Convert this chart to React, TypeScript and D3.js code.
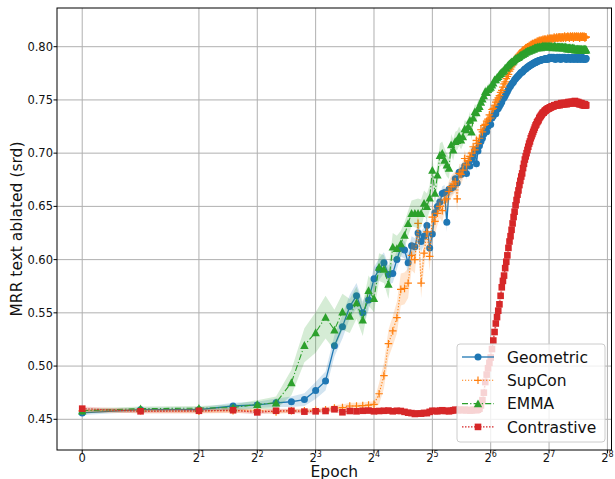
import * as React from 'react';
import * as d3 from 'd3';

// one point per epoch, 0..199
const epochs: number[] = d3.range(0, 200);

const geometricMean = [
  0.456, 0.459, 0.459, 0.4625, 0.4635, 0.4655, 0.4665, 0.4685, 0.477, 0.486,
  0.519, 0.537, 0.556, 0.566, 0.550, 0.562, 0.582, 0.591, 0.597, 0.586,
  0.587, 0.600, 0.611, 0.609, 0.597, 0.613, 0.612, 0.625, 0.617, 0.622,
  0.632, 0.611, 0.624, 0.644, 0.650, 0.654, 0.662, 0.663, 0.635, 0.666,
  0.667, 0.668, 0.676, 0.672, 0.682, 0.680, 0.684, 0.688, 0.681, 0.690,
  0.688, 0.694, 0.698, 0.703, 0.690, 0.702, 0.707, 0.711, 0.714, 0.718,
  0.722, 0.720, 0.725, 0.729, 0.727, 0.733, 0.735, 0.738, 0.737, 0.741,
  0.742, 0.744, 0.746, 0.748, 0.751, 0.752, 0.754, 0.756, 0.758, 0.760,
  0.762, 0.763, 0.765, 0.766, 0.767, 0.769, 0.770, 0.771, 0.772, 0.773,
  0.774, 0.775, 0.776, 0.776, 0.777, 0.778, 0.779, 0.779, 0.780, 0.781,
  0.781, 0.782, 0.782, 0.783, 0.783, 0.784, 0.784, 0.785, 0.785, 0.785,
  0.786, 0.786, 0.786, 0.787, 0.787, 0.787, 0.787, 0.788, 0.788, 0.788,
  0.788, 0.788, 0.789, 0.788, 0.789, 0.789, 0.788, 0.789, 0.789, 0.790,
  0.789, 0.789, 0.790, 0.789, 0.789, 0.790, 0.789, 0.789, 0.788, 0.789,
  0.789, 0.790, 0.789, 0.789, 0.789, 0.790, 0.789, 0.788, 0.789, 0.789,
  0.790, 0.789, 0.789, 0.789, 0.790, 0.789, 0.789, 0.788, 0.789, 0.789,
  0.789, 0.790, 0.789, 0.789, 0.789, 0.788, 0.789, 0.789, 0.790, 0.789,
  0.789, 0.789, 0.788, 0.789, 0.789, 0.790, 0.789, 0.789, 0.789, 0.788,
  0.789, 0.789, 0.790, 0.789, 0.789, 0.789, 0.788, 0.789, 0.789, 0.789,
  0.790, 0.789, 0.789, 0.788, 0.789, 0.789, 0.789, 0.788, 0.789, 0.789,
];
const geometricStd = [
  0.002, 0.002, 0.002, 0.003, 0.003, 0.004, 0.005, 0.006, 0.008, 0.009,
  0.010, 0.011, 0.011, 0.012, 0.011, 0.010, 0.011, 0.010, 0.010, 0.009,
  0.009, 0.009, 0.008, 0.008, 0.010, 0.009, 0.008, 0.008, 0.010, 0.008,
  0.008, 0.010, 0.008, 0.008, 0.008, 0.007, 0.007, 0.007, 0.009, 0.007,
  0.006, 0.006, 0.006, 0.006, 0.006, 0.006, 0.005, 0.005, 0.006, 0.005,
  0.005, 0.005, 0.005, 0.005, 0.006, 0.005, 0.005, 0.004, 0.004, 0.004,
  0.004, 0.004, 0.004, 0.004, 0.004, 0.004, 0.004, 0.004, 0.004, 0.003,
  0.003, 0.003, 0.003, 0.003, 0.003, 0.003, 0.003, 0.003, 0.003, 0.003,
  0.003, 0.003, 0.003, 0.003, 0.003, 0.003, 0.003, 0.003, 0.003, 0.003,
  0.003, 0.003, 0.003, 0.003, 0.003, 0.003, 0.003, 0.003, 0.003, 0.003,
  0.002, 0.002, 0.002, 0.002, 0.002, 0.002, 0.002, 0.002, 0.002, 0.002,
  0.002, 0.002, 0.002, 0.002, 0.002, 0.002, 0.002, 0.002, 0.002, 0.002,
  0.002, 0.002, 0.002, 0.002, 0.002, 0.002, 0.002, 0.002, 0.002, 0.002,
  0.002, 0.002, 0.002, 0.002, 0.002, 0.002, 0.002, 0.002, 0.002, 0.002,
  0.002, 0.002, 0.002, 0.002, 0.002, 0.002, 0.002, 0.002, 0.002, 0.002,
  0.002, 0.002, 0.002, 0.002, 0.002, 0.002, 0.002, 0.002, 0.002, 0.002,
  0.002, 0.002, 0.002, 0.002, 0.002, 0.002, 0.002, 0.002, 0.002, 0.002,
  0.002, 0.002, 0.002, 0.002, 0.002, 0.002, 0.002, 0.002, 0.002, 0.002,
  0.002, 0.002, 0.002, 0.002, 0.002, 0.002, 0.002, 0.002, 0.002, 0.002,
  0.002, 0.002, 0.002, 0.002, 0.002, 0.002, 0.002, 0.002, 0.002, 0.002,
];

const supconMean = [
  0.458, 0.458, 0.4575, 0.458, 0.4585, 0.457, 0.458, 0.458, 0.4585, 0.459,
  0.4605, 0.461, 0.4625, 0.4625, 0.4628, 0.4634, 0.464, 0.474, 0.491, 0.521,
  0.533, 0.5455, 0.572, 0.573, 0.578, 0.604, 0.600, 0.634, 0.578, 0.606,
  0.626, 0.603, 0.640, 0.636, 0.6435, 0.650, 0.646, 0.656, 0.657, 0.664,
  0.6685, 0.671, 0.673, 0.657, 0.681, 0.680, 0.684, 0.695, 0.689, 0.693,
  0.697, 0.700, 0.706, 0.703, 0.712, 0.709, 0.714, 0.722, 0.720, 0.726,
  0.727, 0.730, 0.732, 0.736, 0.733, 0.741, 0.742, 0.745, 0.748, 0.750,
  0.752, 0.754, 0.757, 0.759, 0.762, 0.765, 0.767, 0.770, 0.772, 0.774,
  0.777, 0.779, 0.781, 0.783, 0.785, 0.786, 0.788, 0.789, 0.791, 0.792,
  0.793, 0.794, 0.795, 0.796, 0.797, 0.797, 0.798, 0.799, 0.799, 0.800,
  0.800, 0.801, 0.801, 0.802, 0.802, 0.803, 0.803, 0.803, 0.804, 0.804,
  0.804, 0.805, 0.805, 0.805, 0.806, 0.805, 0.806, 0.806, 0.806, 0.807,
  0.806, 0.807, 0.807, 0.807, 0.806, 0.807, 0.808, 0.807, 0.807, 0.808,
  0.808, 0.807, 0.808, 0.808, 0.807, 0.808, 0.809, 0.808, 0.808, 0.808,
  0.809, 0.808, 0.808, 0.809, 0.808, 0.809, 0.809, 0.808, 0.809, 0.808,
  0.809, 0.809, 0.808, 0.809, 0.810, 0.809, 0.808, 0.809, 0.809, 0.809,
  0.810, 0.809, 0.809, 0.808, 0.809, 0.810, 0.809, 0.809, 0.809, 0.810,
  0.809, 0.808, 0.809, 0.810, 0.809, 0.809, 0.809, 0.810, 0.809, 0.809,
  0.809, 0.810, 0.809, 0.809, 0.808, 0.809, 0.810, 0.809, 0.809, 0.809,
  0.810, 0.809, 0.809, 0.809, 0.810, 0.809, 0.808, 0.809, 0.809, 0.809,
];
const supconStd = [
  0.002, 0.002, 0.002, 0.002, 0.002, 0.002, 0.002, 0.002, 0.002, 0.002,
  0.003, 0.003, 0.003, 0.003, 0.003, 0.003, 0.003, 0.010, 0.012, 0.013,
  0.014, 0.015, 0.015, 0.015, 0.014, 0.014, 0.013, 0.013, 0.014, 0.013,
  0.012, 0.014, 0.012, 0.012, 0.011, 0.011, 0.011, 0.011, 0.010, 0.010,
  0.010, 0.010, 0.010, 0.012, 0.009, 0.009, 0.009, 0.008, 0.008, 0.008,
  0.007, 0.007, 0.007, 0.007, 0.006, 0.006, 0.006, 0.006, 0.006, 0.006,
  0.005, 0.005, 0.005, 0.005, 0.005, 0.005, 0.005, 0.005, 0.005, 0.005,
  0.004, 0.004, 0.004, 0.004, 0.004, 0.004, 0.004, 0.004, 0.004, 0.004,
  0.004, 0.004, 0.004, 0.004, 0.004, 0.004, 0.004, 0.004, 0.004, 0.004,
  0.004, 0.004, 0.004, 0.004, 0.004, 0.004, 0.004, 0.004, 0.004, 0.004,
  0.003, 0.003, 0.003, 0.003, 0.003, 0.003, 0.003, 0.003, 0.003, 0.003,
  0.003, 0.003, 0.003, 0.003, 0.003, 0.003, 0.003, 0.003, 0.003, 0.003,
  0.003, 0.003, 0.003, 0.003, 0.003, 0.003, 0.003, 0.003, 0.003, 0.003,
  0.003, 0.003, 0.003, 0.003, 0.003, 0.003, 0.003, 0.003, 0.003, 0.003,
  0.003, 0.003, 0.003, 0.003, 0.003, 0.003, 0.003, 0.003, 0.003, 0.003,
  0.003, 0.003, 0.003, 0.003, 0.003, 0.003, 0.003, 0.003, 0.003, 0.003,
  0.003, 0.003, 0.003, 0.003, 0.003, 0.003, 0.003, 0.003, 0.003, 0.003,
  0.003, 0.003, 0.003, 0.003, 0.003, 0.003, 0.003, 0.003, 0.003, 0.003,
  0.003, 0.003, 0.003, 0.003, 0.003, 0.003, 0.003, 0.003, 0.003, 0.003,
  0.003, 0.003, 0.003, 0.003, 0.003, 0.003, 0.003, 0.003, 0.003, 0.003,
];

const emmaMean = [
  0.458, 0.460, 0.4605, 0.461, 0.464, 0.4655, 0.4845, 0.5195, 0.5315, 0.546,
  0.534, 0.551, 0.547, 0.5595, 0.5433, 0.571, 0.5635, 0.593, 0.591, 0.577,
  0.612, 0.6105, 0.615, 0.623, 0.634, 0.6435, 0.6435, 0.6435, 0.6435, 0.653,
  0.650, 0.658, 0.684, 0.6625, 0.6795, 0.698, 0.700, 0.6935, 0.689, 0.6858,
  0.708, 0.703, 0.711, 0.712, 0.716, 0.7124, 0.7155, 0.723, 0.722, 0.725,
  0.731, 0.720, 0.733, 0.739, 0.738, 0.742, 0.744, 0.748, 0.751, 0.754,
  0.758, 0.757, 0.760, 0.761, 0.762, 0.764, 0.766, 0.769, 0.769, 0.771,
  0.772, 0.774, 0.775, 0.776, 0.777, 0.778, 0.780, 0.780, 0.782, 0.783,
  0.784, 0.785, 0.786, 0.786, 0.787, 0.788, 0.789, 0.789, 0.790, 0.790,
  0.791, 0.792, 0.792, 0.793, 0.793, 0.794, 0.794, 0.795, 0.795, 0.796,
  0.796, 0.796, 0.797, 0.797, 0.797, 0.798, 0.798, 0.798, 0.799, 0.799,
  0.799, 0.799, 0.800, 0.799, 0.800, 0.800, 0.799, 0.800, 0.800, 0.801,
  0.800, 0.800, 0.801, 0.800, 0.800, 0.801, 0.800, 0.800, 0.801, 0.800,
  0.800, 0.801, 0.800, 0.800, 0.799, 0.800, 0.800, 0.801, 0.800, 0.800,
  0.799, 0.800, 0.800, 0.800, 0.799, 0.800, 0.800, 0.799, 0.800, 0.799,
  0.800, 0.799, 0.799, 0.800, 0.799, 0.799, 0.800, 0.799, 0.799, 0.798,
  0.799, 0.799, 0.798, 0.799, 0.799, 0.798, 0.799, 0.798, 0.798, 0.799,
  0.798, 0.798, 0.799, 0.798, 0.798, 0.797, 0.798, 0.798, 0.797, 0.798,
  0.798, 0.797, 0.798, 0.798, 0.797, 0.798, 0.797, 0.798, 0.797, 0.798,
  0.797, 0.797, 0.798, 0.797, 0.797, 0.798, 0.797, 0.797, 0.798, 0.797,
];
const emmaStd = [
  0.002, 0.002, 0.002, 0.003, 0.004, 0.006, 0.012, 0.016, 0.019, 0.020,
  0.019, 0.017, 0.016, 0.015, 0.015, 0.014, 0.013, 0.013, 0.013, 0.014,
  0.013, 0.012, 0.012, 0.012, 0.012, 0.012, 0.013, 0.014, 0.013, 0.012,
  0.012, 0.012, 0.013, 0.012, 0.011, 0.011, 0.011, 0.011, 0.011, 0.010,
  0.010, 0.010, 0.009, 0.009, 0.009, 0.009, 0.008, 0.008, 0.008, 0.008,
  0.008, 0.008, 0.007, 0.007, 0.007, 0.007, 0.007, 0.006, 0.006, 0.006,
  0.005, 0.005, 0.005, 0.005, 0.005, 0.005, 0.005, 0.004, 0.004, 0.004,
  0.004, 0.004, 0.004, 0.004, 0.004, 0.004, 0.004, 0.004, 0.004, 0.004,
  0.003, 0.003, 0.003, 0.003, 0.003, 0.003, 0.003, 0.003, 0.003, 0.003,
  0.003, 0.003, 0.003, 0.003, 0.003, 0.003, 0.003, 0.003, 0.003, 0.003,
  0.002, 0.002, 0.002, 0.002, 0.002, 0.002, 0.002, 0.002, 0.002, 0.002,
  0.002, 0.002, 0.002, 0.002, 0.002, 0.002, 0.002, 0.002, 0.002, 0.002,
  0.002, 0.002, 0.002, 0.002, 0.002, 0.002, 0.002, 0.002, 0.002, 0.002,
  0.002, 0.002, 0.002, 0.002, 0.002, 0.002, 0.002, 0.002, 0.002, 0.002,
  0.002, 0.002, 0.002, 0.002, 0.002, 0.002, 0.002, 0.002, 0.002, 0.002,
  0.002, 0.002, 0.002, 0.002, 0.002, 0.002, 0.002, 0.002, 0.002, 0.002,
  0.002, 0.002, 0.002, 0.002, 0.002, 0.002, 0.002, 0.002, 0.002, 0.002,
  0.002, 0.002, 0.002, 0.002, 0.002, 0.002, 0.002, 0.002, 0.002, 0.002,
  0.002, 0.002, 0.002, 0.002, 0.002, 0.002, 0.002, 0.002, 0.002, 0.002,
  0.002, 0.002, 0.002, 0.002, 0.002, 0.002, 0.002, 0.002, 0.002, 0.002,
];

const contrastiveMean = [
  0.460, 0.4575, 0.458, 0.4585, 0.4565, 0.458, 0.458, 0.4572, 0.4575, 0.4578,
  0.4594, 0.4566, 0.4578, 0.4575, 0.458, 0.4582, 0.4575, 0.4578, 0.458, 0.4582,
  0.4575, 0.458, 0.4578, 0.457, 0.4562, 0.4558, 0.455, 0.4555, 0.4553, 0.456,
  0.4558, 0.457, 0.458, 0.4578, 0.4575, 0.4582, 0.4585, 0.4578, 0.458, 0.4575,
  0.458, 0.4585, 0.459, 0.4585, 0.459, 0.4588, 0.4585, 0.459, 0.4585, 0.4588,
  0.4582, 0.4585, 0.4588, 0.459, 0.4585, 0.459, 0.460, 0.463, 0.468, 0.475,
  0.485, 0.492, 0.498, 0.503, 0.508, 0.516, 0.524, 0.532, 0.540, 0.546,
  0.552, 0.558, 0.566, 0.574, 0.580, 0.585, 0.592, 0.598, 0.604, 0.611,
  0.617, 0.622, 0.628, 0.634, 0.640, 0.645, 0.651, 0.656, 0.661, 0.665,
  0.670, 0.674, 0.678, 0.681, 0.686, 0.690, 0.694, 0.697, 0.700, 0.703,
  0.706, 0.709, 0.711, 0.714, 0.716, 0.718, 0.720, 0.722, 0.724, 0.726,
  0.727, 0.729, 0.730, 0.731, 0.733, 0.734, 0.735, 0.736, 0.737, 0.738,
  0.738, 0.739, 0.740, 0.740, 0.741, 0.741, 0.742, 0.742, 0.742, 0.743,
  0.743, 0.743, 0.744, 0.744, 0.744, 0.744, 0.745, 0.745, 0.745, 0.745,
  0.745, 0.746, 0.745, 0.746, 0.746, 0.745, 0.746, 0.746, 0.747, 0.746,
  0.746, 0.747, 0.746, 0.747, 0.747, 0.746, 0.747, 0.747, 0.746, 0.747,
  0.747, 0.748, 0.747, 0.747, 0.748, 0.747, 0.747, 0.748, 0.748, 0.747,
  0.748, 0.748, 0.747, 0.748, 0.749, 0.748, 0.747, 0.748, 0.748, 0.747,
  0.747, 0.748, 0.747, 0.746, 0.747, 0.747, 0.746, 0.746, 0.747, 0.746,
  0.746, 0.745, 0.746, 0.746, 0.745, 0.745, 0.746, 0.745, 0.745, 0.745,
];
const contrastiveStd = [
  0.002, 0.002, 0.002, 0.002, 0.002, 0.002, 0.002, 0.002, 0.002, 0.002,
  0.002, 0.002, 0.002, 0.002, 0.002, 0.002, 0.002, 0.002, 0.002, 0.002,
  0.002, 0.002, 0.002, 0.002, 0.002, 0.002, 0.002, 0.002, 0.002, 0.002,
  0.002, 0.002, 0.002, 0.002, 0.002, 0.002, 0.002, 0.002, 0.002, 0.002,
  0.002, 0.002, 0.002, 0.002, 0.002, 0.002, 0.002, 0.002, 0.002, 0.002,
  0.002, 0.002, 0.002, 0.002, 0.002, 0.002, 0.003, 0.004, 0.006, 0.007,
  0.008, 0.008, 0.008, 0.008, 0.008, 0.008, 0.008, 0.008, 0.008, 0.008,
  0.008, 0.008, 0.008, 0.008, 0.007, 0.007, 0.007, 0.007, 0.007, 0.007,
  0.007, 0.007, 0.007, 0.007, 0.006, 0.006, 0.006, 0.006, 0.006, 0.006,
  0.006, 0.006, 0.006, 0.006, 0.005, 0.005, 0.005, 0.005, 0.005, 0.005,
  0.004, 0.004, 0.004, 0.004, 0.004, 0.004, 0.004, 0.004, 0.004, 0.004,
  0.004, 0.004, 0.004, 0.004, 0.004, 0.004, 0.004, 0.004, 0.004, 0.004,
  0.004, 0.004, 0.004, 0.004, 0.004, 0.004, 0.004, 0.004, 0.004, 0.004,
  0.003, 0.003, 0.003, 0.003, 0.003, 0.003, 0.003, 0.003, 0.003, 0.003,
  0.003, 0.003, 0.003, 0.003, 0.003, 0.003, 0.003, 0.003, 0.003, 0.003,
  0.003, 0.003, 0.003, 0.003, 0.003, 0.003, 0.003, 0.003, 0.003, 0.003,
  0.003, 0.003, 0.003, 0.003, 0.003, 0.003, 0.003, 0.003, 0.003, 0.003,
  0.003, 0.003, 0.003, 0.003, 0.003, 0.003, 0.003, 0.003, 0.003, 0.003,
  0.003, 0.003, 0.003, 0.003, 0.003, 0.003, 0.003, 0.003, 0.003, 0.003,
  0.003, 0.003, 0.003, 0.003, 0.003, 0.003, 0.003, 0.003, 0.003, 0.003,
];

const seriesNames = ['Geometric', 'SupCon', 'EMMA', 'Contrastive'];
const seriesMeans = [geometricMean, supconMean, emmaMean, contrastiveMean];
const seriesStds = [geometricStd, supconStd, emmaStd, contrastiveStd];
const seriesColors = ['#1f77b4', '#ff7f0e', '#2ca02c', '#d62728'];
const seriesMarkers = ['circle', 'plus', 'triangle', 'square'];
const seriesDash = ['', '1.2,1.8', '6,2.2,1.2,2.2', '1.5,1.5'];

const xTickValues = [0, 2, 4, 8, 16, 32, 64, 128, 256];
const xTickExponents = ['', '1', '2', '3', '4', '5', '6', '7', '8'];
const yTickValues = [0.45, 0.5, 0.55, 0.6, 0.65, 0.7, 0.75, 0.8];

// matplotlib-like symlog, base 2, linthresh 1
const symlog2 = (v: number) =>
  Math.abs(v) <= 1 ? v : Math.sign(v) * (1 + Math.log2(Math.abs(v)));

const FONT = 'DejaVu Sans, sans-serif';

function Marker({ kind, color, x, y }: { kind: string; color: string; x: number; y: number }) {
  if (kind === 'circle') return <circle cx={x} cy={y} r={3.5} fill={color} />;
  if (kind === 'square') return <rect x={x - 3.3} y={y - 3.3} width={6.6} height={6.6} fill={color} />;
  if (kind === 'triangle')
    return <path d={`M${x},${y - 4.2}L${x - 4.2},${y + 3.6}L${x + 4.2},${y + 3.6}Z`} fill={color} />;
  return (
    <path
      d={`M${x - 3.8},${y}H${x + 3.8}M${x},${y - 3.8}V${y + 3.8}`}
      stroke={color}
      strokeWidth={1.2}
      fill="none"
    />
  );
}

export default function App() {
  const left = 57, right = 611.5, top = 8, bottom = 450;
  const x = d3.scaleLinear().domain([-0.432, 9.07]).range([left, right]);
  const y = d3.scaleLinear().domain([0.42116, 0.83635]).range([bottom, top]);
  const px = (e: number) => x(symlog2(e));

  const line = d3
    .line<number>()
    .x((_, i) => px(epochs[i]))
    .y((d) => y(d));

  const areaFor = (mean: number[], std: number[]) =>
    d3
      .area<number>()
      .x((_, i) => px(epochs[i]))
      .y0((d, i) => y(d - std[i]))
      .y1((d, i) => y(d + std[i]))(mean) || '';

  const legendX = 457, legendY = 344, legendW = 148, legendH = 98;

  return (
    <svg
      width={615}
      height={479}
      style={{ position: 'absolute', left: 0, top: 0 }}
      fontFamily={FONT}
    >
      <rect width={615} height={479} fill="white" />
      <defs>
        <clipPath id="plotClip">
          <rect x={left} y={top} width={right - left} height={bottom - top} />
        </clipPath>
      </defs>

      {/* grid */}
      <g stroke="#b0b0b0" strokeWidth={1}>
        {yTickValues.map((t) => (
          <line key={'gy' + t} x1={left} x2={right} y1={y(t)} y2={y(t)} />
        ))}
        {xTickValues.map((t) => (
          <line key={'gx' + t} x1={px(t)} x2={px(t)} y1={top} y2={bottom} />
        ))}
      </g>

      {/* series */}
      <g clipPath="url(#plotClip)">
        {seriesNames.map((name, s) => (
          <g key={name}>
            <path d={areaFor(seriesMeans[s], seriesStds[s])} fill={seriesColors[s]} fillOpacity={0.2} />
            <path
              d={line(seriesMeans[s]) || ''}
              fill="none"
              stroke={seriesColors[s]}
              strokeWidth={s === 0 ? 1.3 : 1.1}
              strokeDasharray={seriesDash[s] || undefined}
            />
            {seriesMeans[s].map((v, i) => (
              <Marker key={i} kind={seriesMarkers[s]} color={seriesColors[s]} x={px(epochs[i])} y={y(v)} />
            ))}
          </g>
        ))}
      </g>

      {/* spines */}
      <rect x={left} y={top} width={right - left} height={bottom - top} fill="none" stroke="black" strokeWidth={1} />

      {/* y ticks */}
      <g fontSize={11.5} fill="#111">
        {yTickValues.map((t) => (
          <g key={'yt' + t}>
            <line x1={left - 3.5} x2={left} y1={y(t)} y2={y(t)} stroke="black" strokeWidth={1} />
            <text x={53} y={y(t) + 4.1} textAnchor="end">
              {t.toFixed(2)}
            </text>
          </g>
        ))}
      </g>

      {/* x ticks */}
      <g fontSize={11.5} fill="#111">
        {xTickValues.map((t, i) => (
          <g key={'xt' + t}>
            <line x1={px(t)} x2={px(t)} y1={bottom} y2={bottom + 3.5} stroke="black" strokeWidth={1} />
            <text x={px(t)} y={462} textAnchor="middle">
              {xTickExponents[i] === '' ? (
                '0'
              ) : (
                <>
                  2
                  <tspan fontSize={8} dy={-5}>
                    {xTickExponents[i]}
                  </tspan>
                </>
              )}
            </text>
          </g>
        ))}
      </g>

      {/* axis labels */}
      <text x={(left + right) / 2} y={477} textAnchor="middle" fontSize={15.5} fill="#111">
        Epoch
      </text>
      <text
        transform={`translate(21.5,${(top + bottom) / 2}) rotate(-90)`}
        textAnchor="middle"
        fontSize={15.5}
        fill="#111"
      >
        MRR text ablated (srd)
      </text>

      {/* legend */}
      <g>
        <rect
          x={legendX}
          y={legendY}
          width={legendW}
          height={legendH}
          rx={3}
          fill="white"
          fillOpacity={0.8}
          stroke="#cccccc"
          strokeWidth={1}
        />
        {seriesNames.map((name, s) => {
          const cy = 357 + s * 23.3;
          return (
            <g key={'lg' + name}>
              <line
                x1={462}
                x2={494}
                y1={cy}
                y2={cy}
                stroke={seriesColors[s]}
                strokeWidth={s === 0 ? 1.3 : 1.1}
                strokeDasharray={seriesDash[s] || undefined}
              />
              <Marker kind={seriesMarkers[s]} color={seriesColors[s]} x={478} y={cy} />
              <text x={507} y={cy + 5.6} fontSize={15.5} fill="#111">
                {name}
              </text>
            </g>
          );
        })}
      </g>
    </svg>
  );
}
